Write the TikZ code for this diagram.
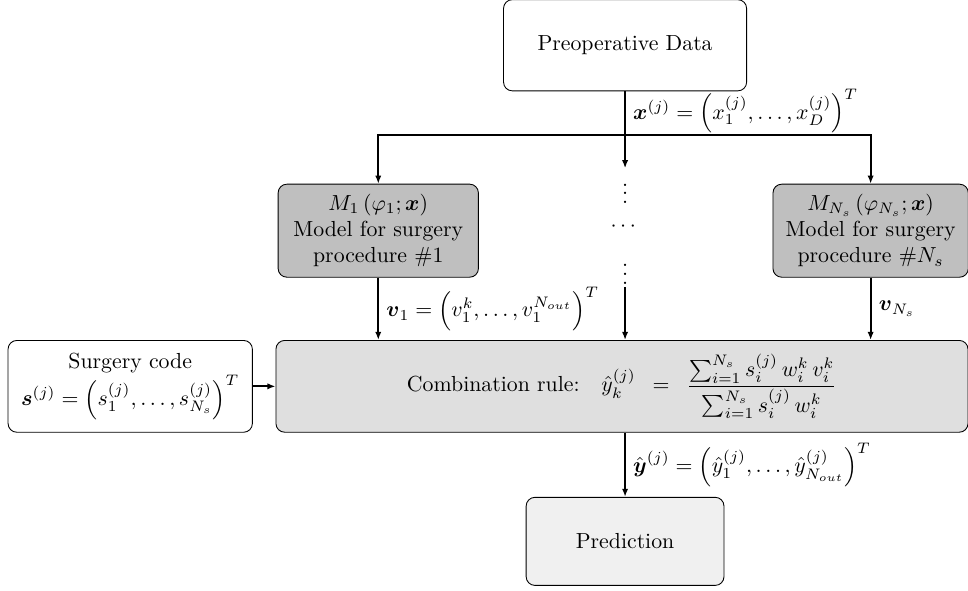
\documentclass[tikz,border=0pt]{standalone}
\usepackage{amsmath,amssymb}
\usepackage{tikz}
\usetikzlibrary{arrows.meta,positioning}

\begin{document}
\begin{tikzpicture}[
        scale=1.0,
        blk/.style={rectangle, draw, rounded corners=4pt, align=center, fill=white},
        mdl/.style={blk, fill=gray!50, minimum width=3.23cm, minimum height=1.5cm},
        arr/.style={thick, -{Latex[length=1.3mm, width=1mm]}},
    ]
        \useasboundingbox (0, 0) rectangle (15.61, -9.52);

        % Input data (top)
        \node[blk, minimum width=3.92cm, minimum height=1.47cm] (PREOP) at (10.08, -0.73) {Preoperative Data};
        \coordinate (SPLIT) at (10.08, -2.18);

        % Model boxes
        \node[mdl] (M1) at (6.10, -3.72) {$M_1\left(\varphi_1;\boldsymbol{x}\right)$\\Model for surgery\\procedure $\#1$};
        \node[mdl, minimum width=3.15cm] (MNS) at (14.04, -3.72) {$M_{N_s}\left(\varphi_{N_s};\boldsymbol{x}\right)$\\Model for surgery\\procedure $\#N_s$};

        % Dots for the other models
        \node[inner sep=1pt] (VTOP) at (10.08, -3.02) {$\vdots$};
        \node[inner sep=1pt] (HDOTS) at (10.08, -3.66) {$\cdots$};
        \node[inner sep=1pt] (VBOT) at (10.08, -4.32) {$\vdots$};

        % Combination (middle row)
        \node[blk, fill=gray!25, minimum width=11.16cm, minimum height=1.48cm] (COMB) at (10.03, -6.23)
            {Combination rule:\quad$\hat{y}_k^{(j)}\enspace=\enspace\dfrac{\sum_{i=1}^{N_s} s_i^{(j)}\, w_i^k\, v_i^k}{\sum_{i=1}^{N_s} s_i^{(j)}\, w_i^k}$};
        \node[blk, minimum width=3.94cm, minimum height=1.48cm] (SCODE) at (2.10, -6.23)
            {Surgery code\\$\boldsymbol{s}^{(j)}=\left(s_1^{(j)},\dots,s_{N_s}^{(j)}\right)^T$};

        % Output
        \node[blk, fill=gray!12, minimum width=3.19cm, minimum height=1.42cm] (PRED) at (10.08, -8.73) {Prediction};

        % Connectors
        \draw[arr] (PREOP.south) -- node[right, pos=0.45] {$\boldsymbol{x}^{(j)}=\left(x_1^{(j)},\dots,x_D^{(j)}\right)^T$} (SPLIT) -- (VTOP.north);
        \draw[arr] (SPLIT) -| (M1.north);
        \draw[arr] (SPLIT) -| (MNS.north);
        \draw[arr] (M1.south) -- node[right] {$\boldsymbol{v}_1=\left(v_1^k,\dots,v_1^{N_{out}}\right)^T$} (M1.south |- COMB.north);
        \draw[arr] (VBOT.south) -- (VBOT.south |- COMB.north);
        \draw[arr] (MNS.south) -- node[right] {$\boldsymbol{v}_{N_s}$} (MNS.south |- COMB.north);
        \draw[arr] (SCODE.east) -- (COMB.west);
        \draw[arr] (COMB.south -| PRED.north) -- node[right] {$\hat{\boldsymbol{y}}^{(j)}=\left(\hat{y}_1^{(j)},\dots,\hat{y}_{N_{out}}^{(j)}\right)^T$} (PRED.north);
    \end{tikzpicture}
\end{document}
